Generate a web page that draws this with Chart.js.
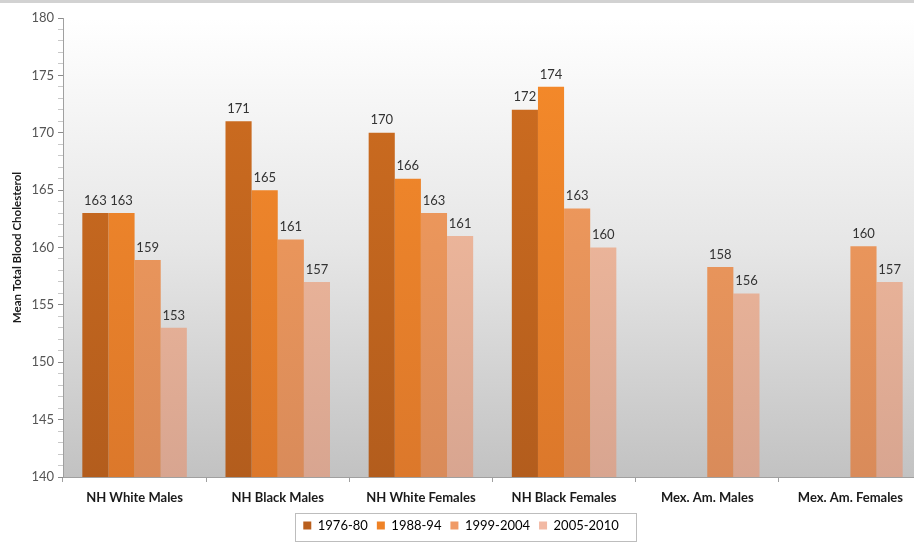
<!DOCTYPE html>
<html>
<head>
<meta charset="utf-8">
<script src="https://cdn.jsdelivr.net/npm/chart.js@4"></script>
<style>
  html, body { margin: 0; padding: 0; background: #fff; overflow: hidden; }
  #wrap { width: 922px; height: 542px; position: relative; }
</style>
</head>
<body>
<div id="wrap"><canvas id="chart"></canvas></div>
<script>
// categories and series
const groups = ['NH White Males', 'NH Black Males', 'NH White Females', 'NH Black Females', 'Mex. Am. Males', 'Mex. Am. Females'];
const y1976 = [163, 171, 170, 172, null, null];
const y1988 = [163, 165, 166, 174, null, null];
const y1999 = [158.9, 160.7, 163, 163.4, 158.3, 160.1];
const y2005 = [153, 157, 161, 160, 156, 157];
const seriesNames = ['1976-80', '1988-94', '1999-2004', '2005-2010'];

// colours (top / bottom of gradient, legend swatch)
const shades = [
    { top: '#d06e20', bottom: '#b35d1d', key: '#b95f1d' },
    { top: '#f78b29', bottom: '#dc782b', key: '#ef8226' },
    { top: '#f99f5c', bottom: '#d98b5a', key: '#f09a66' },
    { top: '#fcc2a2', bottom: '#d8a590', key: '#f2b9a4' }
];

function barFill(i) {
    return (ctx) => {
        const area = ctx.chart.chartArea;
        if (!area) return shades[i].top;
        const g = ctx.chart.ctx.createLinearGradient(0, area.top, 0, area.bottom);
        g.addColorStop(0, shades[i].top);
        g.addColorStop(1, shades[i].bottom);
        return g;
    };
}

// plot area shading + top rule + legend frame
const backdrop = {
    id: 'backdrop',
    beforeDraw(chart) {
        const { ctx, chartArea: a } = chart;
        ctx.save();
        const g = ctx.createLinearGradient(0, a.top, 0, a.bottom);
        g.addColorStop(0, '#ffffff');
        g.addColorStop(0.5, '#e6e6e6');
        g.addColorStop(1, '#c2c2c2');
        ctx.fillStyle = g;
        ctx.fillRect(a.left, a.top, a.right - a.left, a.bottom - a.top);
        ctx.fillStyle = '#d2d2d2';
        ctx.fillRect(0, 0, chart.width, 3);
        ctx.restore();
    },
    afterDraw(chart) {
        const lg = chart.legend;
        if (!lg) return;
        const { ctx } = chart;
        ctx.save();
        ctx.strokeStyle = '#bdbdbd';
        ctx.lineWidth = 1;
        ctx.strokeRect(295.5, 513.5, 341, 28);
        ctx.restore();
    }
};

// value labels above bars
const valueLabels = {
    id: 'valueLabels',
    afterDatasetsDraw(chart) {
        const { ctx } = chart;
        ctx.save();
        ctx.font = '13px Lato, "Noto Sans", sans-serif';
        ctx.fillStyle = '#333333';
        ctx.textAlign = 'center';
        ctx.textBaseline = 'bottom';
        chart.data.datasets.forEach((ds, i) => {
            chart.getDatasetMeta(i).data.forEach((bar, j) => {
                const v = ds.data[j];
                if (v == null) return;
                ctx.fillText(Math.round(v), bar.x, bar.y - 6);
            });
        });
        ctx.restore();
    }
};

const sets = [y1976, y1988, y1999, y2005].map((vals, i) => ({
    label: seriesNames[i],
    data: vals,
    backgroundColor: barFill(i),
    borderWidth: 0,
    categoryPercentage: 0.73,
    barPercentage: 1.0
}));

new Chart(document.getElementById('chart'), {
    type: 'bar',
    data: { labels: groups, datasets: sets },
    options: {
        responsive: true,
        maintainAspectRatio: false,
        animation: false,
        layout: { padding: { top: 18, left: 0, right: 0, bottom: 0 } },
        plugins: {
            tooltip: { enabled: false },
            legend: {
                position: 'bottom',
                labels: {
                    font: { family: 'Lato, "Noto Sans", sans-serif', size: 13 },
                    color: '#333333',
                    boxWidth: 8,
                    boxHeight: 8,
                    padding: 9,
                    generateLabels: (chart) => seriesNames.map((n, i) => ({
                        text: n,
                        fillStyle: shades[i].key,
                        strokeStyle: shades[i].key,
                        lineWidth: 0,
                        datasetIndex: i
                    }))
                }
            }
        },
        scales: {
            x: {
                grid: {
                    offset: true,
                    drawOnChartArea: false,
                    tickLength: 5,
                    color: '#a0a0a0'
                },
                border: { color: '#a0a0a0' },
                ticks: {
                    color: '#1a1a1a',
                    font: { family: 'Lato, "Noto Sans", sans-serif', size: 13, weight: 'bold' },
                    padding: 8
                },
                afterFit: (s) => { s.height = 33; }
            },
            y: {
                min: 140,
                max: 180,
                ticks: {
                    stepSize: 1,
                    autoSkip: false,
                    color: '#555555',
                    font: { family: 'Lato, "Noto Sans", sans-serif', size: 13 },
                    padding: 4,
                    callback: (v) => (v % 5 === 0 ? v : '')
                },
                grid: {
                    drawOnChartArea: false,
                    tickLength: 5,
                    color: (c) => (c.tick && c.tick.value % 5 === 0 ? '#8c8c8c' : '#c8c8c8')
                },
                border: { color: '#a0a0a0' },
                title: {
                    display: true,
                    text: 'Mean Total Blood Cholesterol',
                    color: '#1a1a1a',
                    font: { family: 'Lato, "Noto Sans", sans-serif', size: 11.5, weight: 'bold' },
                    padding: { top: 10, bottom: 4 }
                },
                afterFit: (s) => { s.width = 63; }
            }
        }
    },
    plugins: [backdrop, valueLabels]
});
</script>
</body>
</html>
